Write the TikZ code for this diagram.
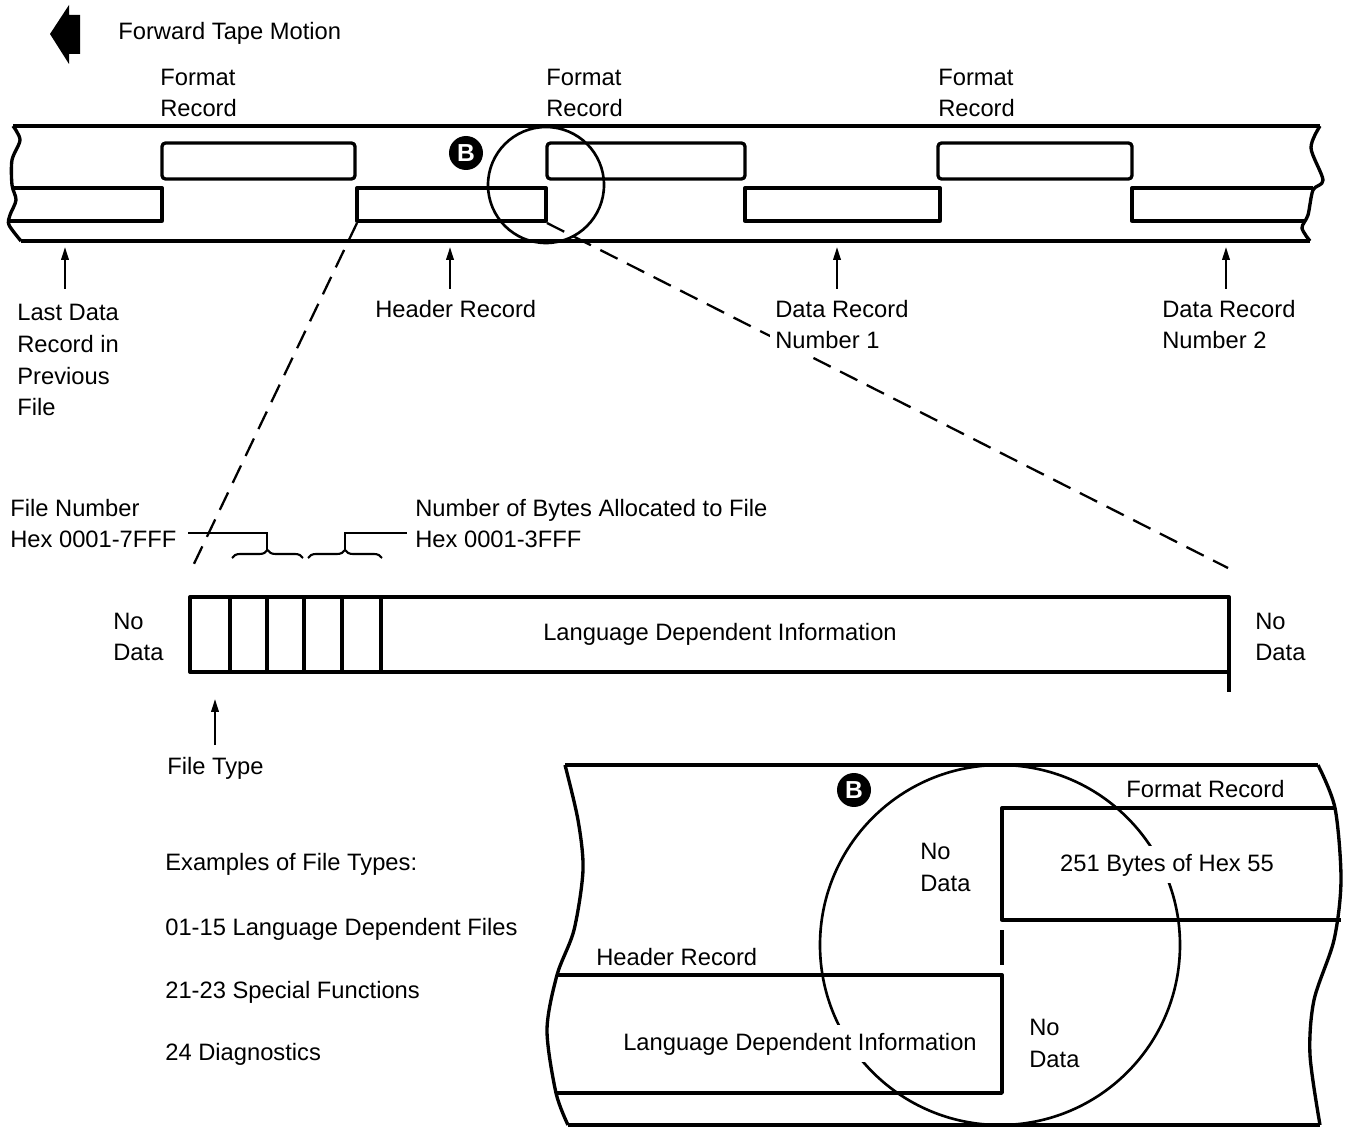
\documentclass[tikz,border=0pt]{standalone}
\usepackage{fontspec}
\setmainfont{Liberation Sans}
\usetikzlibrary{arrows.meta, decorations.pathreplacing}

\tikzset{
  txt/.style={font=\fontsize{13.5}{18.2}\selectfont, inner sep=0pt, align=left, anchor=base west},
  tape/.style={line width=1.9pt, line join=round},
  zoomln/.style={line width=1.3pt, dash pattern=on 11pt off 6pt},
  uparrow/.style={line width=1.2pt, -{Triangle[length=0.26cm, width=0.15cm]}},
  badge/.style={circle, fill=black, text=white, inner sep=0pt, minimum size=0.68cm,
                font=\fontsize{14}{14}\selectfont\bfseries},
  mask/.style={fill=white, inner xsep=0.1cm, inner ysep=0.15cm},
  lead/.style={line width=1.2pt}
}

\begin{document}
\begin{tikzpicture}[x=0.02cm, y=-0.02cm]
  \useasboundingbox (0,0) rectangle (1350,1128);

  % direction of motion
  \fill (50,34) -- (69,5) -- (69,15) -- (80,15) -- (80,54) -- (69,54) -- (69,64) -- cycle;
  \node[txt] (motion) at (118,40) {Forward Tape Motion};

  \node[txt] (fmt1) at (160,117) {Format\\Record};
  \node[txt] (fmt2) at (546,117) {Format\\Record};
  \node[txt] (fmt3) at (938,117) {Format\\Record};

  % tape
  \draw[tape] (13,126) -- (1320,126);
  \draw[tape] (21,241) -- (1310,241);
  \draw[tape] plot[smooth] coordinates {(13,126) (20,140) (12,160) (12,185) (16,200) (10,215) (9,225) (21,241)};
  \draw[tape] plot[smooth] coordinates {(1320,126) (1311,148) (1323,180) (1313,190) (1308,215) (1302,228) (1310,241)};
  \foreach \xa/\xb in {162/355, 547/745, 938/1132}
    \draw[tape, rounded corners=2pt] (\xa,143) rectangle (\xb,179);
  \draw[tape] (12,188) -- (162,188) -- (162,221) -- (9,221);
  \foreach \xa/\xb in {357/546, 745/940}
    \draw[tape] (\xa,188) rectangle (\xb,221);
  \draw[tape] (1313,188) -- (1132,188) -- (1132,221) -- (1305,221);

  \draw[line width=1.5pt] (546,185) circle[radius=58];
  \node[badge] (btop) at (466,153) {B};

  % pointers to the records
  \coordinate (tLast) at (65,247);
  \coordinate (tHdr) at (450,247);
  \coordinate (tDr1) at (837,247);
  \coordinate (tDr2) at (1226,247);
  \draw[uparrow] (65,289) -- (tLast);
  \draw[uparrow] (450,289) -- (tHdr);
  \draw[uparrow] (837,289) -- (tDr1);
  \draw[uparrow] (1226,289) -- (tDr2);

  % blow-up of the header record
  \coordinate (hdrL) at (357,223);
  \coordinate (hdrR) at (547,223);
  \coordinate (zoomL) at (192,568);
  \coordinate (zoomR) at (1228,568);
  \draw[zoomln] (hdrL) -- (zoomL);
  \draw[zoomln] (hdrR) -- (zoomR);

  \node[txt] (lastrec) at (17,416) {Last Data\\Record in\\Previous\\File};
  \node[txt] (hdrlbl) at (375,318) {Header Record};
  \node[txt, mask] (dr1) at (770,349) {Data Record\\Number 1};
  \node[txt] (dr2) at (1162,349) {Data Record\\Number 2};

  % header record layout
  \node[txt] (fnum) at (10,548) {File Number\\Hex 0001-7FFF};
  \node[txt] (nbytes) at (415,548) {Number of Bytes Allocated to File\\Hex 0001-3FFF};
  \coordinate (fnEnd) at (188,533);
  \coordinate (nbEnd) at (407,533);
  \coordinate (br1) at (267,550);
  \coordinate (br2) at (345,550);
  \draw[lead] (fnEnd) -| (br1);
  \draw[lead] (br2) |- (nbEnd);
  \draw[lead, decorate, decoration={brace, amplitude=0.16cm}] (232,558) -- (303,558);
  \draw[lead, decorate, decoration={brace, amplitude=0.16cm}] (308,558) -- (382,558);

  \draw[tape] (190,597) rectangle (1229,672);
  \foreach \xd in {230,267,304,342,381}
    \draw[tape] (\xd,597) -- (\xd,672);
  \draw[tape] (1229,672) -- (1229,692);
  \node[txt, anchor=base] (ldi) at (720,641) {Language Dependent Information};
  \node[txt] (nodl) at (113,661) {No\\Data};
  \node[txt] (nodr) at (1255,661) {No\\Data};

  \coordinate (tType) at (215,699);
  \draw[uparrow] (215,745) -- (tType);
  \node[txt] (ftype) at (167,774) {File Type};

  \node[txt] (ex0) at (165,870) {Examples of File Types:};
  \node[txt] (ex1) at (165,935) {01-15 Language Dependent Files};
  \node[txt] (ex2) at (165,998) {21-23 Special Functions};
  \node[txt] (ex3) at (165,1060) {24 Diagnostics};

  % detail B
  \draw[tape] (565,765) -- (1318,765);
  \draw[tape] (568,1125) -- (1320,1125);
  \draw[tape] plot[smooth] coordinates {(565,765) (578,820) (583,870) (574,930) (557,975) (547,1030) (556,1093) (568,1125)};
  \draw[tape] plot[smooth] coordinates {(1318,765) (1335,808) (1341,880) (1334,940) (1314,1000) (1310,1055) (1320,1125)};
  \draw[tape] (1335,808) -- (1002,808) -- (1002,920) -- (1341,920);
  \draw[tape] (1002,930) -- (1002,965);
  \draw[tape] (557,975) -- (1002,975) -- (1002,1093) -- (556,1093);
  \draw[line width=1.5pt] (1000,945) circle[radius=180];
  \node[badge] (bbot) at (854,790) {B};

  \node[txt] (fmtb) at (1126,797) {Format Record};
  \node[txt] (nod1) at (920,891) {No\\Data};
  \node[txt, mask, anchor=base] (bytes) at (1167,871) {251 Bytes of Hex 55};
  \node[txt] (hdrb) at (596,965) {Header Record};
  \node[txt, mask, anchor=base] (ldib) at (800,1050) {Language Dependent Information};
  \node[txt] (nod2) at (1029,1067) {No\\Data};
\end{tikzpicture}
\end{document}
